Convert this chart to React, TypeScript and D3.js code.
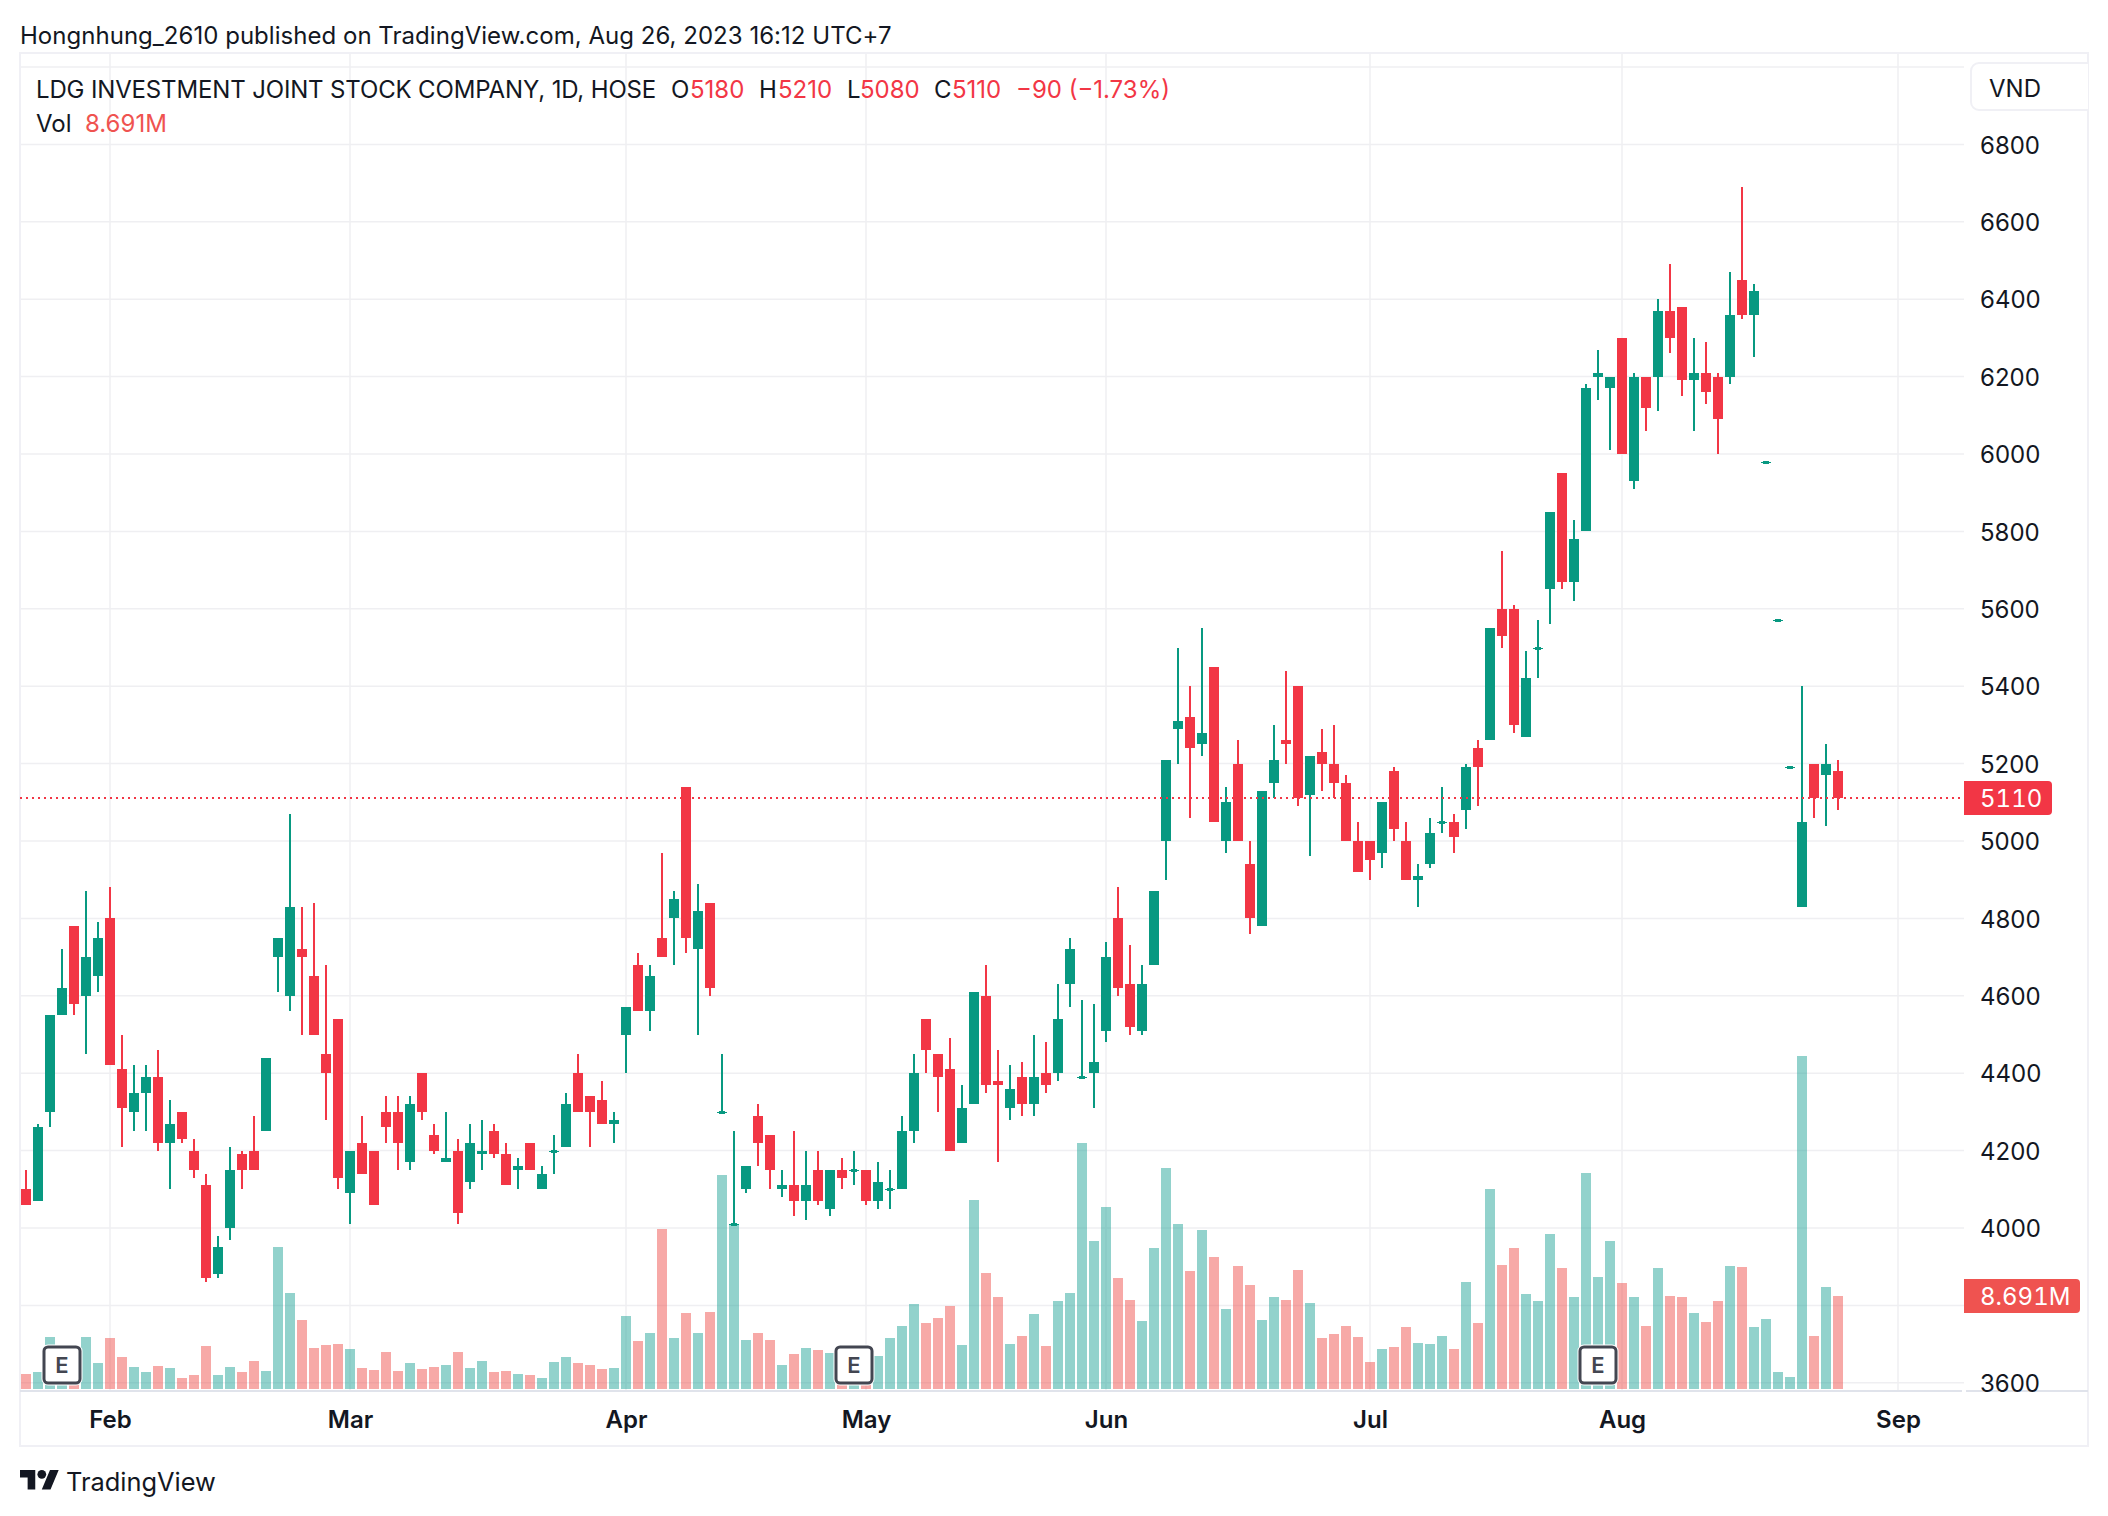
import React, { useEffect, useRef } from 'react'
import { select, scaleLinear, axisBottom, axisRight, range } from 'd3'

// daily bars, O/H/L/C (VND), volume in millions
const opens = [
  4100, 4070, 4300, 4550, 4780, 4600, 4650, 4800, 4410, 4300,
  4350, 4390, 4220, 4300, 4200, 4110, 3880, 4000, 4190, 4200,
  4250, 4700, 4600, 4720, 4650, 4450, 4540, 4090, 4220, 4200,
  4300, 4300, 4170, 4400, 4240, 4170, 4200, 4120, 4190, 4250,
  4190, 4150, 4220, 4100, 4200, 4210, 4400, 4340, 4330, 4270,
  4500, 4680, 4560, 4750, 4800, 5140, 4720, 4840, 4300, 4010,
  4100, 4290, 4240, 4100, 4110, 4070, 4150, 4050, 4150, 4150,
  4150, 4070, 4100, 4100, 4250, 4540, 4450, 4410, 4220, 4320,
  4600, 4380, 4310, 4390, 4320, 4400, 4400, 4630, 4390, 4400,
  4510, 4800, 4630, 4510, 4680, 5000, 5290, 5320, 5250, 5450,
  5000, 5200, 4940, 4780, 5150, 5260, 5400, 5120, 5230, 5200,
  5150, 5000, 5000, 4970, 5180, 5000, 4900, 4940, 5050, 5050,
  5080, 5240, 5260, 5600, 5600, 5270, 5500, 5650, 5950, 5670,
  5800, 6200, 6170, 6300, 5930, 6200, 6200, 6370, 6380, 6190,
  6210, 6200, 6200, 6450, 6360, 5980, 5570, 5190, 4830, 5200,
  5170, 5180,
]
const highs = [
  4150, 4270, 4550, 4720, 4780, 4870, 4790, 4880, 4500, 4420,
  4420, 4460, 4330, 4300, 4230, 4140, 3980, 4210, 4200, 4290,
  4440, 4750, 5070, 4830, 4840, 4680, 4540, 4200, 4290, 4200,
  4340, 4340, 4340, 4400, 4270, 4300, 4230, 4270, 4280, 4270,
  4220, 4180, 4220, 4160, 4240, 4350, 4450, 4340, 4380, 4300,
  4570, 4710, 4680, 4970, 4870, 5140, 4890, 4840, 4450, 4250,
  4160, 4320, 4240, 4150, 4250, 4200, 4200, 4150, 4180, 4200,
  4150, 4170, 4150, 4290, 4450, 4540, 4450, 4490, 4370, 4610,
  4680, 4460, 4420, 4430, 4500, 4480, 4630, 4750, 4590, 4580,
  4740, 4880, 4730, 4680, 4870, 5210, 5500, 5400, 5550, 5450,
  5140, 5260, 5000, 5130, 5300, 5440, 5400, 5220, 5290, 5300,
  5170, 5050, 5000, 5100, 5190, 5050, 4940, 5060, 5140, 5070,
  5200, 5260, 5550, 5750, 5610, 5490, 5570, 5850, 5950, 5830,
  6180, 6270, 6200, 6300, 6210, 6200, 6400, 6490, 6380, 6300,
  6290, 6210, 6470, 6690, 6440, 5980, 5570, 5190, 5400, 5200,
  5250, 5210,
]
const lows = [
  4060, 4070, 4260, 4550, 4550, 4450, 4610, 4420, 4210, 4250,
  4250, 4200, 4100, 4220, 4130, 3860, 3870, 3970, 4100, 4150,
  4250, 4610, 4560, 4500, 4500, 4280, 4100, 4010, 4140, 4060,
  4220, 4150, 4150, 4280, 4190, 4170, 4010, 4100, 4150, 4180,
  4110, 4100, 4150, 4100, 4140, 4210, 4300, 4210, 4270, 4220,
  4400, 4560, 4510, 4700, 4680, 4710, 4500, 4600, 4300, 4010,
  4090, 4160, 4100, 4080, 4030, 4020, 4060, 4030, 4100, 4110,
  4060, 4050, 4050, 4100, 4220, 4400, 4300, 4200, 4220, 4320,
  4350, 4170, 4280, 4290, 4290, 4350, 4380, 4570, 4390, 4310,
  4480, 4600, 4500, 4500, 4680, 4900, 5200, 5060, 5220, 5050,
  4970, 5000, 4760, 4780, 5110, 5200, 5090, 4960, 5130, 5110,
  5000, 4920, 4900, 4930, 5000, 4900, 4830, 4930, 5020, 4970,
  5030, 5090, 5260, 5500, 5280, 5270, 5420, 5560, 5650, 5620,
  5800, 6140, 6010, 6000, 5910, 6060, 6110, 6260, 6150, 6060,
  6130, 6000, 6180, 6350, 6250, 5980, 5570, 5190, 4830, 5060,
  5040, 5080,
]
const closes = [
  4060, 4260, 4550, 4620, 4580, 4700, 4750, 4420, 4310, 4350,
  4390, 4220, 4270, 4230, 4150, 3870, 3950, 4150, 4150, 4150,
  4440, 4750, 4830, 4700, 4500, 4400, 4130, 4200, 4140, 4060,
  4260, 4220, 4320, 4300, 4200, 4180, 4040, 4220, 4200, 4190,
  4110, 4160, 4150, 4140, 4200, 4320, 4300, 4300, 4270, 4280,
  4570, 4560, 4650, 4700, 4850, 4750, 4820, 4620, 4300, 4010,
  4160, 4220, 4150, 4110, 4070, 4110, 4070, 4150, 4130, 4150,
  4070, 4120, 4100, 4250, 4400, 4460, 4390, 4200, 4310, 4610,
  4370, 4370, 4360, 4320, 4390, 4370, 4540, 4720, 4390, 4430,
  4700, 4620, 4520, 4630, 4870, 5210, 5310, 5240, 5280, 5050,
  5100, 5000, 4800, 5130, 5210, 5250, 5110, 5220, 5200, 5150,
  5000, 4920, 4950, 5100, 5030, 4900, 4910, 5020, 5050, 5010,
  5190, 5190, 5550, 5530, 5300, 5420, 5500, 5850, 5670, 5780,
  6170, 6210, 6200, 6000, 6200, 6120, 6370, 6300, 6190, 6210,
  6160, 6090, 6360, 6360, 6420, 5980, 5570, 5190, 5050, 5110,
  5200, 5110,
]
const volumes = [
  1.4, 1.59, 4.86, 3.2, 2.6, 4.86, 2.43, 4.77, 2.99, 2.06,
  1.59, 2.15, 1.96, 1.03, 1.31, 4.02, 1.31, 2.06, 1.59, 2.62,
  1.68, 13.3, 8.97, 6.45, 3.83, 4.11, 4.21, 3.74, 1.96, 1.78,
  3.46, 1.68, 2.43, 1.87, 2.06, 2.24, 3.46, 1.96, 2.62, 1.59,
  1.68, 1.4, 1.31, 1.03, 2.52, 2.99, 2.43, 2.24, 1.87, 1.96,
  6.82, 4.49, 5.23, 14.95, 4.77, 7.1, 5.23, 7.2, 20.0, 15.42,
  4.58, 5.23, 4.58, 2.24, 3.27, 3.83, 3.64, 3.36, 2.9, 3.0,
  2.8, 3.08, 4.77, 5.89, 7.94, 6.17, 6.64, 7.76, 4.11, 17.66,
  10.84, 8.6, 4.21, 4.95, 7.0, 4.02, 8.22, 8.97, 22.99, 13.83,
  17.0, 10.37, 8.32, 6.36, 13.18, 20.65, 15.42, 11.03, 14.86, 12.34,
  7.48, 11.5, 9.72, 6.45, 8.6, 8.32, 11.12, 8.04, 4.77, 5.14,
  5.89, 4.86, 2.52, 3.74, 3.93, 5.79, 4.3, 4.21, 4.95, 3.74,
  10.0, 6.17, 18.69, 11.59, 13.18, 8.88, 8.22, 14.49, 11.31, 8.6,
  20.19, 10.47, 13.83, 9.91, 8.6, 5.89, 11.31, 8.69, 8.6, 7.1,
  6.26, 8.22, 11.5, 11.4, 5.79, 6.54, 1.59, 1.12, 31.12, 4.95,
  9.53, 8.69,
]

const priceTicks = range(3600, 7001, 200)
// 3800 sits behind the volume badge in the original, so it gets no label
const priceLabels = range(3600, 6801, 200).filter((d) => d !== 3800)
const monthLabels = ['Feb', 'Mar', 'Apr', 'May', 'Jun', 'Jul', 'Aug', 'Sep']
const monthBars = [7, 27, 50, 70, 90, 112, 133, 156]
const earningsBars = [3, 69, 131]
const lastClose = 5110
const lastVolume = 8.691

const UP = '#089981'
const DOWN = '#F23645'
const TEXT = '#131722'
const FONT = 'Inter, sans-serif'

const width = 2108
const height = 1516

const App = () => {
  const ref = useRef<SVGSVGElement>(null)

  useEffect(() => {
    const svg = select(ref.current)
    svg.selectAll('*').remove()

    const x = scaleLinear().domain([0, 151]).range([26, 1838])
    const y = scaleLinear().domain([5000, 4800]).range([841, 918.4])
    // volume sits on the bottom of the pane with its own scale
    const v = scaleLinear().domain([0, 10]).range([1389, 1282])
    const paneRight = 1964
    const paneBottom = 1391

    svg.append('rect').attr('width', width).attr('height', height).attr('fill', '#fff')

    // grid
    const grid = svg.append('g').attr('stroke', '#EFEFF2').attr('stroke-width', 1.5)
    grid.selectAll('line.h').data(priceTicks).join('line').attr('class', 'h')
      .attr('x1', 20).attr('x2', paneRight)
      .attr('y1', (d) => y(d)).attr('y2', (d) => y(d))
    grid.selectAll('line.v').data(monthBars).join('line').attr('class', 'v')
      .attr('x1', (d) => x(d)).attr('x2', (d) => x(d))
      .attr('y1', 53).attr('y2', paneBottom)

    // frame
    svg.append('rect')
      .attr('x', 20).attr('y', 53).attr('width', 2068).attr('height', 1393)
      .attr('fill', 'none').attr('stroke', '#F0F0F5').attr('stroke-width', 2)
    svg.append('line').attr('x1', 20).attr('x2', 1962).attr('y1', paneBottom).attr('y2', paneBottom)
      .attr('stroke', '#E0E3EB').attr('stroke-width', 2)
    svg.append('line').attr('x1', 1966).attr('x2', 2088).attr('y1', paneBottom).attr('y2', paneBottom)
      .attr('stroke', '#E0E3EB').attr('stroke-width', 2)

    const bars = range(0, opens.length)
    const isUp = (i: number) => closes[i] >= opens[i]

    // volume
    svg.append('g').selectAll('rect').data(bars).join('rect')
      .attr('x', (i) => x(i) - 5)
      .attr('width', 10)
      .attr('y', (i) => v(volumes[i]))
      .attr('height', (i) => v(0) - v(volumes[i]))
      .attr('fill', (i) => (isUp(i) ? '#26A69A' : '#EF5350'))
      .attr('fill-opacity', 0.5)
      .attr('shape-rendering', 'crispEdges')

    // candles
    const candles = svg.append('g').attr('shape-rendering', 'crispEdges')
    candles.selectAll('rect.wick').data(bars).join('rect').attr('class', 'wick')
      .attr('x', (i) => x(i) - 1)
      .attr('width', 2)
      .attr('y', (i) => y(highs[i]))
      .attr('height', (i) => y(lows[i]) - y(highs[i]))
      .attr('fill', (i) => (isUp(i) ? UP : DOWN))
    candles.selectAll('rect.body').data(bars).join('rect').attr('class', 'body')
      .attr('x', (i) => x(i) - 5)
      .attr('width', 10)
      .attr('y', (i) => y(Math.max(opens[i], closes[i])))
      .attr('height', (i) => Math.max(1, Math.abs(y(opens[i]) - y(closes[i]))))
      .attr('fill', (i) => (isUp(i) ? UP : DOWN))
    // open == close: the flat bars have a small thick middle
    candles.selectAll('rect.doji').data(bars.filter((i) => opens[i] === closes[i])).join('rect').attr('class', 'doji')
      .attr('x', (i) => x(i) - 3)
      .attr('width', 6)
      .attr('y', (i) => y(opens[i]) - 1)
      .attr('height', 3)
      .attr('fill', UP)

    // last price line
    svg.append('line')
      .attr('x1', 20).attr('x2', paneRight)
      .attr('y1', Math.round(y(lastClose))).attr('y2', Math.round(y(lastClose)))
      .attr('stroke', DOWN).attr('stroke-width', 2).attr('stroke-dasharray', '2 4')
      .attr('shape-rendering', 'crispEdges')

    // axes
    const priceAxis = axisRight(y).tickValues(priceLabels).tickSize(0).tickPadding(0).tickFormat((d) => String(d))
    const gy = svg.append('g').attr('transform', 'translate(1980,1)').call(priceAxis)
    gy.select('.domain').remove()
    gy.selectAll('text').attr('font-family', FONT).attr('font-size', 24).attr('fill', TEXT)

    const timeAxis = axisBottom(x).tickValues(monthBars).tickSize(0).tickPadding(0)
      .tickFormat((_d, i) => monthLabels[i])
    const gx = svg.append('g').attr('transform', 'translate(0,1411)').call(timeAxis)
    gx.select('.domain').remove()
    gx.selectAll('text').attr('font-family', FONT).attr('font-size', 24).attr('font-weight', 600).attr('fill', TEXT)

    // price / volume badges
    const badge = (top: number, right: number, fill: string, label: string) => {
      const h = top + 34
      svg.append('path')
        .attr('d', `M1964 ${top}H${right - 4}a4 4 0 0 1 4 4V${h - 4}a4 4 0 0 1 -4 4H1964Z`)
        .attr('fill', fill)
      svg.append('text').attr('x', 1980).attr('y', top + 26)
        .attr('font-family', FONT).attr('font-size', 24).attr('fill', '#fff')
        .style('font-variant-numeric', 'tabular-nums').text(label)
    }
    badge(Math.round(y(lastClose)) - 17, 2052, DOWN, String(lastClose))
    badge(1279, 2080, '#EF5350', `${lastVolume}M`)

    // currency box
    svg.append('path')
      .attr('d', 'M2088 63H1979a8 8 0 0 0 -8 8V102a8 8 0 0 0 8 8H2088')
      .attr('fill', '#fff').attr('stroke', '#F0F0F5').attr('stroke-width', 2)
    svg.append('text').attr('x', 2015).attr('y', 97).attr('text-anchor', 'middle')
      .attr('font-family', FONT).attr('font-size', 24).attr('fill', TEXT).text('VND')

    // earnings marks
    const marks = svg.append('g').selectAll('g').data(earningsBars).join('g')
      .attr('transform', (i) => `translate(${x(i)},1365)`)
    marks.append('rect').attr('x', -18).attr('y', -18).attr('width', 36).attr('height', 36).attr('rx', 4)
      .attr('fill', '#fff').attr('stroke', '#fff').attr('stroke-width', 5)
    marks.append('rect').attr('x', -18).attr('y', -18).attr('width', 36).attr('height', 36).attr('rx', 4)
      .attr('fill', '#fff').attr('stroke', '#434651').attr('stroke-width', 3)
    marks.append('text').attr('text-anchor', 'middle').attr('y', 8)
      .attr('font-family', FONT).attr('font-size', 22).attr('font-weight', 600).attr('fill', '#434651').text('E')

    // header and legend
    const label = (tx: number, ty: number, s: string, fill = TEXT, spacing = 0) => {
      svg.append('text').attr('x', tx).attr('y', ty)
        .attr('font-family', FONT).attr('font-size', 24).attr('fill', fill)
        .attr('letter-spacing', spacing).text(s)
    }
    label(20, 44, 'Hongnhung_2610 published on TradingView.com, Aug 26, 2023 16:12 UTC+7', TEXT, 0.03)
    label(36, 98, 'LDG INVESTMENT JOINT STOCK COMPANY, 1D, HOSE', TEXT, -0.15)
    label(671, 98, 'O')
    label(690, 98, String(opens[151]), DOWN)
    label(759, 98, 'H')
    label(778, 98, String(highs[151]), DOWN)
    label(847, 98, 'L')
    label(860, 98, String(lows[151]), DOWN)
    label(934, 98, 'C')
    label(952, 98, String(closes[151]), DOWN)
    label(1016, 98, '−90 (−1.73%)', DOWN)
    label(36, 132, 'Vol')
    label(85, 132, `${lastVolume}M`, '#EF5350')

    // logo
    const logo = svg.append('g').attr('transform', 'translate(20,1465.6) scale(1.09)').attr('fill', TEXT)
    logo.append('path').attr('d', 'M14 22H7V11H0V4h14v18zM28 22h-8l7.5-18h8L28 22z')
    logo.append('circle').attr('cx', 20).attr('cy', 8).attr('r', 4)
    svg.append('text').attr('x', 66).attr('y', 1491)
      .attr('font-family', FONT).attr('font-size', 25.4).attr('fill', TEXT).text('TradingView')
  }, [])

  return (
    <svg ref={ref} width={width} height={height}
      style={{ position: 'absolute', left: 0, top: 0, display: 'block' }} />
  )
}

export default App
